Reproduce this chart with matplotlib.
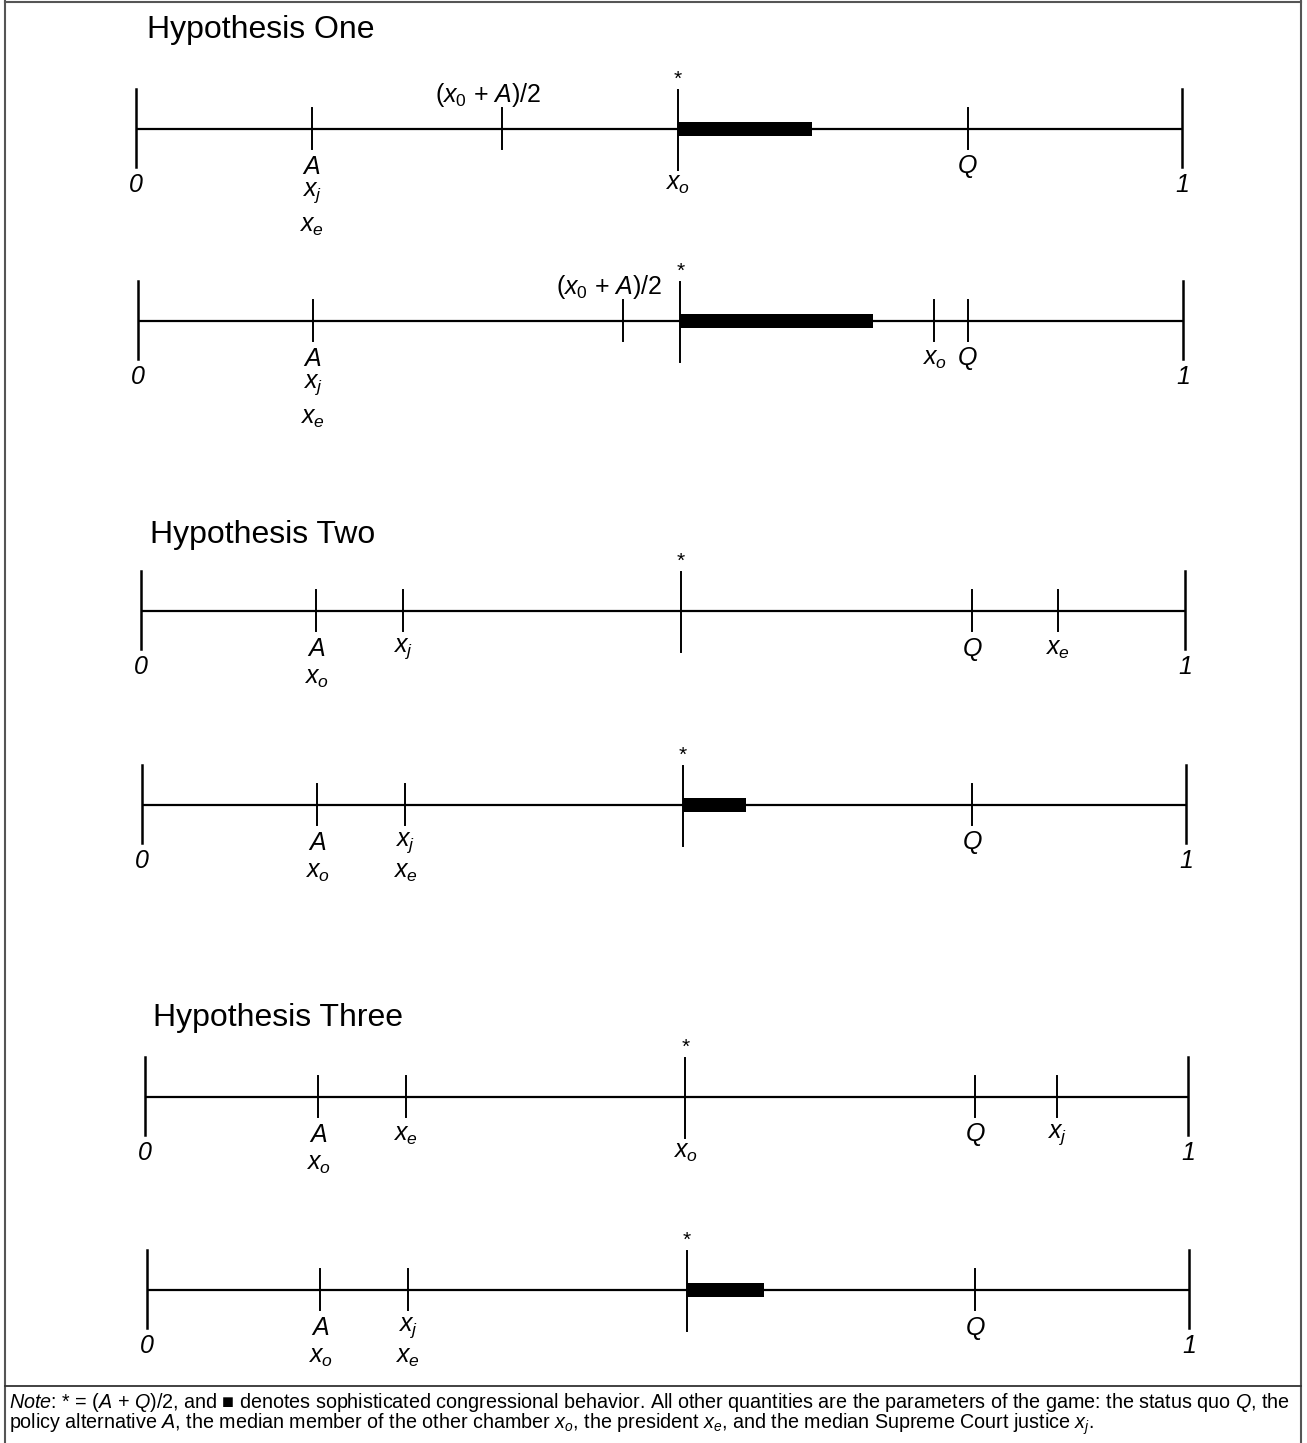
import matplotlib
matplotlib.use("Agg")
import matplotlib.pyplot as plt
from matplotlib.patches import Rectangle

plt.rcParams["font.family"] = ["Liberation Sans", "DejaVu Sans"]
plt.rcParams["mathtext.fontset"] = "custom"
plt.rcParams["mathtext.rm"] = "Liberation Sans"
plt.rcParams["mathtext.it"] = "Liberation Sans:italic"
plt.rcParams["mathtext.bf"] = "Liberation Sans:bold"

# ---------------- data (positions on the 0..1 policy line) ----------------
titles = ["Hypothesis One", "Hypothesis Two", "Hypothesis Three"]

# star = (A+Q)/2 ; bar = sophisticated behaviour from star to bar_end
line1_star, line1_bar_end, line1_star_label = 0.518, 0.646, ["$x_o$"]
line1_ticks = [0.168, 0.350, 0.795]
line1_below = [["$A$", "$x_j$", "$x_e$"], [], ["$Q$"]]
line1_above = ["", r"$\mathit{(x_0}$ + $\mathit{A)/2}$", ""]

line2_star, line2_bar_end, line2_star_label = 0.519, 0.703, []
line2_ticks = [0.167, 0.464, 0.762, 0.794]
line2_below = [["$A$", "$x_j$", "$x_e$"], [], ["$x_o$"], ["$Q$"]]
line2_above = ["", r"$\mathit{(x_0}$ + $\mathit{A)/2}$", "", ""]

line3_star, line3_bar_end, line3_star_label = 0.517, None, []
line3_ticks = [0.168, 0.251, 0.796, 0.878]
line3_below = [["$A$", "$x_o$"], ["$x_j$"], ["$Q$"], ["$x_e$"]]
line3_above = ["", "", "", ""]

line4_star, line4_bar_end, line4_star_label = 0.518, 0.579, []
line4_ticks = [0.168, 0.252, 0.795]
line4_below = [["$A$", "$x_o$"], ["$x_j$", "$x_e$"], ["$Q$"]]
line4_above = ["", "", ""]

line5_star, line5_bar_end, line5_star_label = 0.518, None, ["$x_o$"]
line5_ticks = [0.166, 0.250, 0.796, 0.874]
line5_below = [["$A$", "$x_o$"], ["$x_e$"], ["$Q$"], ["$x_j$"]]
line5_above = ["", "", "", ""]

line6_star, line6_bar_end, line6_star_label = 0.518, 0.592, []
line6_ticks = [0.166, 0.250, 0.795]
line6_below = [["$A$", "$x_o$"], ["$x_j$", "$x_e$"], ["$Q$"]]
line6_above = ["", "", ""]

note_line1 = (r"$\mathit{Note}$: * = ($\mathit{A}$ + $\mathit{Q}$)/2, and ■ denotes sophisticated "
              r"congressional behavior. All other quantities are the parameters of the game: "
              r"the status quo $\mathit{Q}$, the")
note_line2 = (r"policy alternative $\mathit{A}$, the median member of the other chamber $x_o$, "
              r"the president $x_e$, and the median Supreme Court justice $x_j$.")

# ---------------- layout (pixels) ----------------
W, H, DPI = 1307, 1443, 100
line_px = [  # (x of 0, x of 1, y of line)
    (136, 1182, 129),
    (138, 1183, 321),
    (141, 1185, 611),
    (142, 1186, 805),
    (145, 1188, 1097),
    (147, 1189, 1290),
]
title_px = [(147, 30), (150, 535), (153, 1018)]
ROWS = {1: [-38], 2: [-38, -67], 3: [-38, -64, -97]}
LW_LINE, LW_TICK, LW_END = 1.6, 1.4, 1.8
LABEL_FS, TITLE_FS, NOTE_FS = 18, 23, 14.2

lines = [
    (line1_star, line1_bar_end, line1_star_label, line1_ticks, line1_below, line1_above),
    (line2_star, line2_bar_end, line2_star_label, line2_ticks, line2_below, line2_above),
    (line3_star, line3_bar_end, line3_star_label, line3_ticks, line3_below, line3_above),
    (line4_star, line4_bar_end, line4_star_label, line4_ticks, line4_below, line4_above),
    (line5_star, line5_bar_end, line5_star_label, line5_ticks, line5_below, line5_above),
    (line6_star, line6_bar_end, line6_star_label, line6_ticks, line6_below, line6_above),
]

fig = plt.figure(figsize=(W / DPI, H / DPI), dpi=DPI)
fig.patch.set_facecolor("white")

# frame & note
bg = fig.add_axes([0, 0, 1, 1])
bg.set_xlim(0, W)
bg.set_ylim(H, 0)
bg.axis("off")
frame_col = "#555555"
bg.plot([5, 5], [1, H], color=frame_col, lw=1.5)
bg.plot([5, 1301], [2, 2], color=frame_col, lw=1.5)
bg.plot([1301, 1301], [1, H], color=frame_col, lw=1.5)
bg.plot([5, 1301], [1386, 1386], color="#333333", lw=1.3)
bg.text(9, 1402, note_line1, fontsize=NOTE_FS, va="center", ha="left")
bg.text(9, 1424, note_line2, fontsize=NOTE_FS, va="center", ha="left")
for t, (tx, ty) in zip(titles, title_px):
    bg.text(tx, ty, t, fontsize=TITLE_FS, va="center", ha="left")

AX_HALF = 110
for (x0, x1, y), (star, bar_end, star_lab, ticks, below, above) in zip(line_px, lines):
    ax = fig.add_axes([x0 / W, (H - y - AX_HALF) / H, (x1 - x0) / W, 2 * AX_HALF / H])
    ax.set_xlim(0, 1)
    ax.set_ylim(-AX_HALF, AX_HALF)
    ax.axis("off")
    ax.patch.set_alpha(0)
    # main line
    ax.plot([0, 1], [0, 0], color="black", lw=LW_LINE, solid_capstyle="butt", clip_on=False)
    # end ticks
    for v, lab in ((0.0, "0"), (1.0, "1")):
        ax.plot([v, v], [-38, 40], color="black", lw=LW_END, clip_on=False)
        ax.text(v, -56, lab, fontsize=LABEL_FS, style="italic", ha="center", va="center")
    # sophisticated-behaviour bar
    if bar_end is not None:
        ax.add_patch(Rectangle((star, -7), bar_end - star, 14, facecolor="black",
                               edgecolor="none", clip_on=False))
    # star tick
    ax.plot([star, star], [-41, 39], color="black", lw=LW_TICK, clip_on=False)
    ax.text(star, 50, "*", fontsize=15, ha="center", va="center")
    for lab in star_lab:
        ax.text(star, -55, lab, fontsize=LABEL_FS, ha="center", va="center")
    # parameter ticks
    for v, labs, ab in zip(ticks, below, above):
        ax.plot([v, v], [-20, 21], color="black", lw=LW_TICK, clip_on=False)
        if labs:
            for lab, off in zip(labs, ROWS[len(labs)]):
                ax.text(v, off, lab, fontsize=LABEL_FS, ha="center", va="center")
        if ab:
            ax.annotate(ab, (v, 0), xytext=(-14, 34), textcoords="offset pixels",
                        fontsize=LABEL_FS, ha="center", va="center")

fig.savefig("out.png", dpi=DPI)
